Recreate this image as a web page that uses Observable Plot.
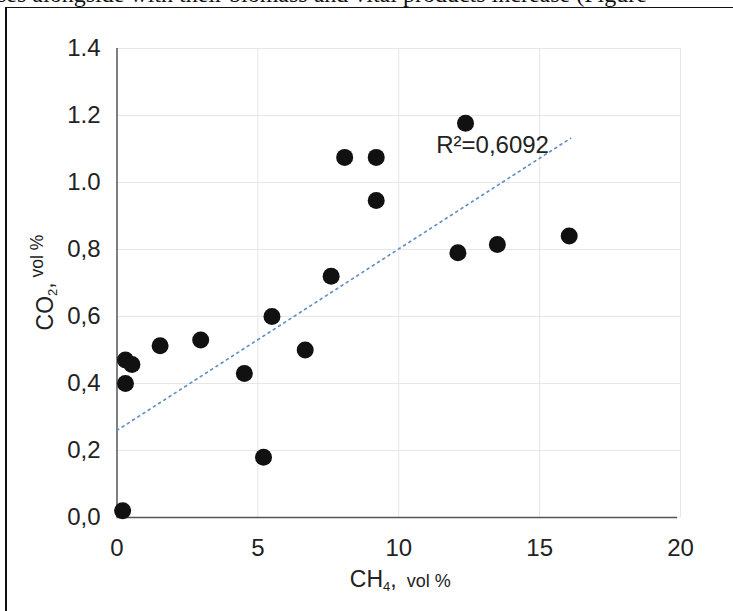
<!DOCTYPE html>
<html>
<head>
<meta charset="utf-8">
<script src="https://cdn.jsdelivr.net/npm/d3@7"></script>
<script src="https://cdn.jsdelivr.net/npm/@observablehq/plot@0.6"></script>
<style>
  html, body { margin: 0; padding: 0; background: #fff; }
  #wrap { position: relative; width: 733px; height: 611px; overflow: hidden; background: #fff; }
  #toptext { position: absolute; left: -3px; top: -18px; white-space: nowrap;
    font-family: "Liberation Serif", "Times New Roman", serif; font-size: 24px; line-height: 24px; color: #111; }
  #frame { position: absolute; left: 5px; top: 7px; width: 900px; height: 800px;
    border-left: 2px solid #111; border-top: 1px solid #111; }
  #chart { position: absolute; left: 0; top: 0; }
</style>
</head>
<body>
<div id="wrap">
  <div id="toptext">ses alongside with their biomass and vital products increase (Figure</div>
  <div id="frame"></div>
  <div id="chart"></div>
</div>
<script>
// ---- data ----
const ch4 = [0.2, 0.3, 0.3, 0.53, 1.53, 2.97, 4.52, 5.2, 5.5, 6.68, 7.6, 8.08, 9.2, 9.2, 12.37, 12.1, 13.5, 16.05];
const co2 = [0.02, 0.40, 0.47, 0.457, 0.513, 0.53, 0.43, 0.18, 0.60, 0.50, 0.72, 1.075, 1.075, 0.946, 1.177, 0.79, 0.815, 0.84];

const trendX = [0, 16.1];
const trendY = [0.26, 1.132];
const r2Text = "R²=0,6092";

const xTickValues = [0, 5, 10, 15, 20];
const xTickLabels = ["0", "5", "10", "15", "20"];
const yTickValues = [0, 0.2, 0.4, 0.6, 0.8, 1.0, 1.2, 1.4];
const yTickLabels = ["0,0", "0,2", "0,4", "0,6", "0,8", "1.0", "1.2", "1.4"];

const xTitle = ["CH", "4", ",", "  vol %"];
const yTitle = ["CO", "2", ",", " vol %"];

// ---- build ----
const points = ch4.map((x, i) => ({x, y: co2[i]}));
const trend = trendX.map((x, i) => ({x, y: trendY[i]}));
const font = "'Liberation Sans', Arial, Helvetica, sans-serif";

const plot = Plot.plot({
  width: 733,
  height: 611,
  marginLeft: 116.5,
  marginRight: 53,
  marginTop: 48,
  marginBottom: 94,
  style: { fontFamily: font, fontSize: "24px", background: "transparent", color: "#222" },
  x: { domain: [0, 20] },
  y: { domain: [0, 1.4] },
  marks: [
    Plot.gridX(xTickValues.filter(d => d > 0), { stroke: "#e6e6e6", strokeOpacity: 1, strokeWidth: 1 }),
    Plot.gridY(yTickValues.filter(d => d > 0), { stroke: "#e6e6e6", strokeOpacity: 1, strokeWidth: 1 }),
    Plot.ruleX([0], { stroke: "#555", strokeWidth: 1.5 }),
    Plot.ruleY([0], { stroke: "#555", strokeWidth: 1.5, x1: 0, x2: 19.9 }),
    Plot.line(trend, { x: "x", y: "y", stroke: "#6690c8", strokeWidth: 1.7, strokeDasharray: "2,4.2" }),
    Plot.dot(points, { x: "x", y: "y", r: 8.5, fill: "#111", stroke: "none" }),
    Plot.text([r2Text], { x: () => 11.33, y: () => 1.112, text: d => d, textAnchor: "start",
      fontSize: 24, fill: "#222" }),
    Plot.axisX({ ticks: xTickValues, tickFormat: d => xTickLabels[xTickValues.indexOf(d)],
      tickSize: 0, tickPadding: 21, fontSize: 24, fill: "#222", label: null }),
    Plot.axisY({ ticks: yTickValues, tickFormat: d => yTickLabels[yTickValues.indexOf(d)],
      tickSize: 0, tickPadding: 16.5, fontSize: 24, fill: "#222", label: null })
  ]
});

document.getElementById("chart").appendChild(plot);

// ---- axis titles with sub/superscripts ----
const svg = d3.select(plot);
const xs = plot.scale("x"), ys = plot.scale("y");
const cx = (xs.range[0] + xs.range[1]) / 2;
const cy = (ys.range[0] + ys.range[1]) / 2;

const xt = svg.append("text")
  .attr("x", cx + 2).attr("y", 587)
  .attr("text-anchor", "middle")
  .attr("fill", "#222")
  .style("font-family", font)
  .style("white-space", "pre");
xt.append("tspan").attr("font-size", 23).text(xTitle[0]);
xt.append("tspan").attr("font-size", 13).attr("dy", 4).text(xTitle[1]);
xt.append("tspan").attr("font-size", 23).attr("dy", -4).text(xTitle[2]);
xt.append("tspan").attr("font-size", 18).text(xTitle[3]);

const yt = svg.append("text")
  .attr("transform", `translate(53,${cy}) rotate(-90)`)
  .attr("text-anchor", "middle")
  .attr("fill", "#222")
  .style("font-family", font)
  .style("white-space", "pre");
yt.append("tspan").attr("font-size", 23).text(yTitle[0]);
yt.append("tspan").attr("font-size", 13).attr("dy", 4).text(yTitle[1]);
yt.append("tspan").attr("font-size", 23).attr("dy", -4).text(yTitle[2]);
yt.append("tspan").attr("font-size", 17.5).attr("dy", -10).text(yTitle[3]);
</script>
</body>
</html>
